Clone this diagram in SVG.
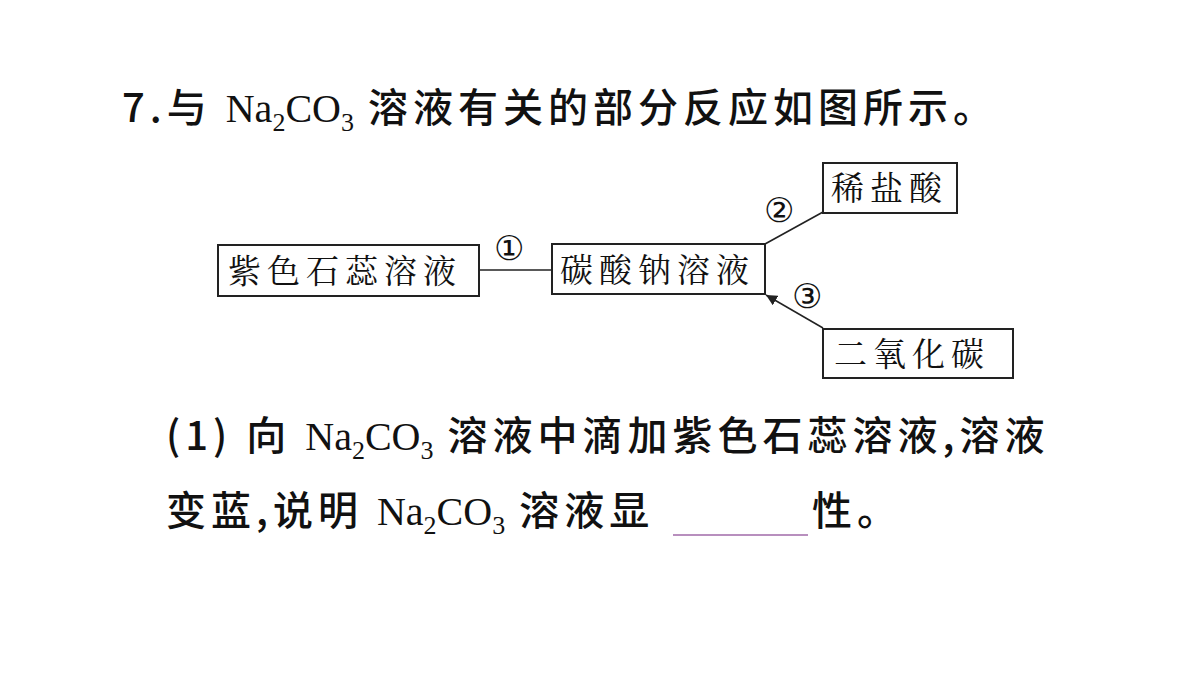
<svg xmlns="http://www.w3.org/2000/svg" width="1200" height="675" viewBox="0 0 1200 675">
<style>
.t{font-family:"Noto Sans CJK SC","Noto Sans",sans-serif;font-size:40px;fill:#111;letter-spacing:5px;font-weight:500}
.s{font-family:"Liberation Serif",serif;font-size:40px;fill:#111;letter-spacing:0;font-weight:normal}
.b{fill:#fff;stroke:#222;stroke-width:2}
.n{font-family:"Noto Serif CJK SC","Noto Sans CJK SC",serif;font-size:33px;fill:#111;letter-spacing:6px}
.c{font-family:"DejaVu Sans","Noto Sans CJK SC",sans-serif;font-size:34px;fill:#111}
.l{stroke:#222;stroke-width:1.5;fill:none}
</style>
<defs><marker id="a" viewBox="0 0 10 10" refX="10" refY="5" markerWidth="11" markerHeight="11" orient="auto" markerUnits="userSpaceOnUse"><path d="M0,0L10,5L0,10z" fill="#222"/></marker></defs>
<text class="t" x="122" y="122">7.与 <tspan class="s">Na<tspan font-size="26" dy="9">2</tspan><tspan dy="-9">CO</tspan><tspan font-size="26" dy="9">3</tspan></tspan><tspan dy="-9"> 溶液有关的部分反应如图所示。</tspan></text>
<g id="connectors">
<line class="l" x1="479" y1="270" x2="552" y2="270"/>
<line class="l" x1="765" y1="244" x2="823" y2="212"/>
<line class="l" x1="823" y1="328" x2="766" y2="295" marker-end="url(#a)"/>
<text class="c" x="494" y="260">①</text>
<text class="c" x="764" y="222">②</text>
<text class="c" x="792" y="308">③</text>
</g>
<g id="n1"><rect class="b" x="218" y="245" width="261" height="51"/><text class="n" x="228" y="283">紫色石蕊溶液</text></g>
<g id="n2"><rect class="b" x="552" y="244" width="213" height="50"/><text class="n" x="560" y="282">碳酸钠溶液</text></g>
<g id="n3"><rect class="b" x="823" y="163" width="134" height="50"/><text class="n" x="831" y="200">稀盐酸</text></g>
<g id="n4"><rect class="b" x="823" y="329" width="190" height="49"/><text class="n" x="834" y="366">二氧化碳</text></g>
<text class="t" x="166" y="450">(1) 向 <tspan class="s">Na<tspan font-size="26" dy="9">2</tspan><tspan dy="-9">CO</tspan><tspan font-size="26" dy="9">3</tspan></tspan><tspan dy="-9"> 溶液中滴加紫色石蕊溶液,溶液</tspan></text>
<text class="t" x="166" y="525">变蓝,说明 <tspan class="s">Na<tspan font-size="26" dy="9">2</tspan><tspan dy="-9">CO</tspan><tspan font-size="26" dy="9">3</tspan></tspan><tspan dy="-9"> 溶液显</tspan></text>
<line x1="673" y1="535" x2="808" y2="535" stroke="#a06aa8" stroke-width="1.5"/>
<text class="t" x="812" y="525">性。</text>
</svg>
